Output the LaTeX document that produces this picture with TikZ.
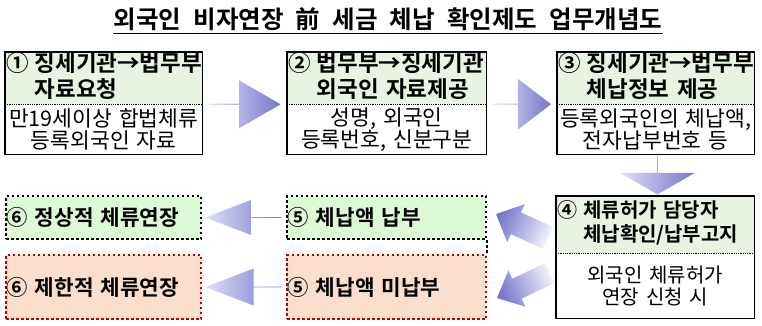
\documentclass[tikz,border=0pt]{standalone}
\usepackage{fontspec}
\setmainfont[WordSpace=2.2,BoldFont={Noto Sans CJK KR Bold}]{Noto Sans CJK KR}
\usetikzlibrary{shapes.arrows,calc}

\definecolor{headgreen}{RGB}{232,243,226}
\definecolor{okgreen}{RGB}{221,250,215}
\definecolor{badpeach}{RGB}{252,222,204}
\definecolor{darkred}{RGB}{192,0,0}
\definecolor{arrowlight}{RGB}{222,224,246}
\definecolor{arrowdark}{RGB}{118,118,204}

\newcommand\hangtext[3]{\begin{tabular}{@{}l@{\hspace{6pt}}l@{}}#1&#2\\&#3\end{tabular}}

\begin{document}
\begin{tikzpicture}[x=1pt,y=-1pt,
  headbox/.style={fill=headgreen,minimum height=50pt,inner xsep=1pt,inner ysep=0pt,
    align=left,anchor=north west,font=\fontsize{22.5}{23}\selectfont\bfseries},
  bodybox/.style={minimum height=50pt,inner sep=0pt,align=center,anchor=north,
    font=\fontsize{21.5}{22}\selectfont},
  frame/.style={line width=1.3pt},
  sepline/.style={densely dotted,line width=0.8pt},
  okbox/.style={fill=okgreen,draw=black,line width=2pt,dash pattern=on 2.5pt off 2.5pt,
    anchor=north west,minimum height=43pt,inner xsep=0.5pt,align=left,
    font=\fontsize{21.3}{23}\selectfont\bfseries},
  badbox/.style={okbox,fill=badpeach,draw=darkred,minimum height=64pt},
  blockarrow/.style={single arrow,draw=none,inner sep=0pt,
    left color=arrowlight,right color=arrowdark},
  slantarrow/.style={shading=axis,top color=arrowdark,bottom color=arrowlight!40!white}]
  \useasboundingbox (0,0) rectangle (762,325);

  % title
  \node[inner sep=0pt,font=\fontsize{24.5}{26}\selectfont\bfseries] (title) at (388,19)
    {외국인 비자연장 前 세금 체납 확인제도 업무개념도};
  \draw[line width=1.6pt] ($(title.base west)+(0,5)$) -- ($(title.base east)+(0,5)$);

  % upper row
  \node[headbox,text width=195pt] (h1) at (5,52) {\hangtext{①}{징세기관→법무부}{자료요청}};
  \node[bodybox,text width=197pt] (b1) at (h1.south) {만19세이상 합법체류\\등록외국인 자료};
  \node[headbox,text width=197pt] (h2) at (287,52) {\hangtext{②}{법무부→징세기관}{외국인 자료제공}};
  \node[bodybox,text width=199pt] (b2) at (h2.south) {성명, 외국인\\등록번호, 신분구분};
  \node[headbox,text width=195pt] (h3) at (557,52) {\hangtext{③\hspace{5pt}}{징세기관→법무부}{체납정보 제공}};
  \node[bodybox,text width=197pt] (b3) at (h3.south) {등록외국인의 체납액,\\전자납부번호 등};
  \foreach \n in {1,2,3} {
    \draw[frame] (h\n.north west) rectangle (b\n.south east);
    \draw[sepline] (h\n.south west) -- (h\n.south east);
  }

  % checking desk
  \node[headbox,text width=196pt,minimum height=57pt,font=\fontsize{20}{24}\selectfont\bfseries] (h4) at (556,196)
    {\hangtext{④}{체류허가 담당자}{체납확인/납부고지}};
  \node[bodybox,text width=198pt,minimum height=65pt,font=\fontsize{20}{21.5}\selectfont] (b4) at (h4.south)
    {외국인 체류허가\\연장 신청 시};
  \draw[frame] (h4.north west) rectangle (b4.south east);
  \draw[sepline] (h4.south west) -- (h4.south east);

  % outcomes
  \node[okbox,text width=198pt] (p5a) at (286,195) {⑤ 체납액 납부};
  \node[badbox,text width=198pt] (p5b) at (286,254) {⑤ 체납액 미납부};
  \node[okbox,text width=194pt] (p6a) at (5,195) {⑥ 정상적 체류연장};
  \node[badbox,text width=194pt] (p6b) at (5,254) {⑥ 제한적 체류연장};
  \draw[line width=2pt,dash pattern=on 2.5pt off 2.5pt] (p5a.south east) -- (p5b.north east);

  % block arrows
  \node[blockarrow,minimum height=71pt,minimum width=48pt,single arrow head extend=9pt,
    single arrow tip angle=60] (a1) at ($(b1.north east)!0.5!(b2.north west)$) {};
  \node[blockarrow,minimum height=58pt,minimum width=51pt,single arrow head extend=10pt,
    single arrow tip angle=75] (a2) at ($(b2.north east)!0.5!(b3.north west)$) {};
  \node[blockarrow,minimum height=38pt,minimum width=75pt,single arrow head extend=16pt,
    single arrow tip angle=120,rotate=-90] (a3) at ($(b3.south)!0.5!(h4.north)+(2,0)$) {};
  \node[blockarrow,minimum height=76pt,minimum width=35pt,single arrow head extend=7pt,
    single arrow tip angle=42,rotate=180] (a6) at ($(p6a.east)!0.5!(p5a.west)$) {};
  \node[blockarrow,minimum height=76pt,minimum width=37pt,single arrow head extend=8pt,
    single arrow tip angle=42,rotate=180] (a7) at ($(p6b.east)!0.5!(p5b.west)$) {};
  % slanted ones, drawn as outlines
  \shade[slantarrow,shading angle=65] (553,227) -- (521,212.3) -- (524.8,204.2) -- (496,214)
    -- (507.2,242.3) -- (510.9,234.1) -- (543,248.9) -- cycle;
  \shade[slantarrow,shading angle=115] (545.3,263) -- (512.2,278.7) -- (508.4,270.5) -- (497,298)
    -- (525.4,306.7) -- (521.6,298.6) -- (554.7,283) -- cycle;
\end{tikzpicture}
\end{document}
